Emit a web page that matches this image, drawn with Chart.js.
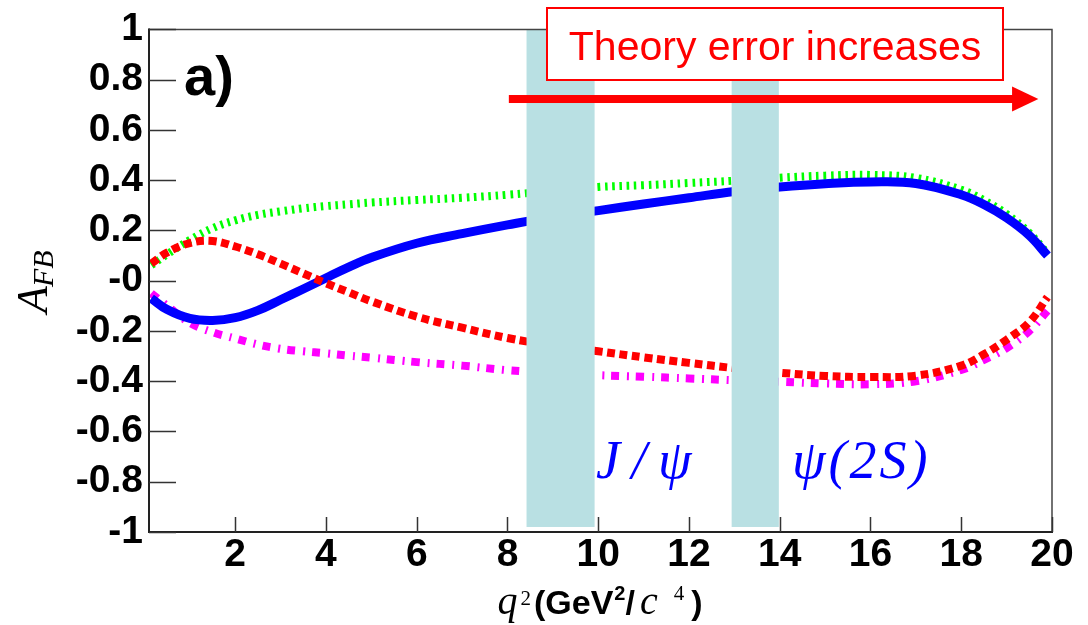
<!DOCTYPE html>
<html>
<head>
<meta charset="utf-8">
<script src="https://cdn.jsdelivr.net/npm/chart.js@4"></script>
<style>
  html, body { margin: 0; padding: 0; background: #fff; }
  canvas { display: block; }
</style>
</head>
<body>
<canvas id="afb" width="1088" height="625"></canvas>
<script>
// q^2 sampling points (GeV^2/c^4)
const q2 = [0.15, 0.5, 1.0, 1.5, 2.0, 2.5, 3.0, 3.5, 4.0, 4.5, 5.0, 6.0, 7.0, 8.0, 9.0,
            10.0, 11.0, 12.0, 13.0, 14.0, 15.0, 16.0, 17.0, 18.0, 18.5, 19.0, 19.5, 19.9];

// A_FB predictions for the four models
const afbSM = [-0.070, -0.115, -0.150, -0.158, -0.147, -0.118, -0.076, -0.033, 0.011, 0.054, 0.092, 0.149, 0.187, 0.222, 0.254,
               0.279, 0.305, 0.330, 0.355, 0.373, 0.386, 0.393, 0.387, 0.342, 0.303, 0.250, 0.180, 0.100];
const afbGreen = [0.062, 0.105, 0.162, 0.209, 0.240, 0.262, 0.276, 0.288, 0.297, 0.304, 0.311, 0.321, 0.330, 0.342, 0.357,
                  0.373, 0.380, 0.389, 0.398, 0.410, 0.418, 0.421, 0.409, 0.362, 0.320, 0.265, 0.190, 0.108];
const afbRed = [0.068, 0.112, 0.150, 0.158, 0.136, 0.105, 0.068, 0.029, -0.010, -0.046, -0.082, -0.143, -0.187, -0.228, -0.258,
                -0.281, -0.305, -0.327, -0.348, -0.366, -0.379, -0.383, -0.378, -0.338, -0.293, -0.235, -0.165, -0.065];
const afbMagenta = [-0.050, -0.100, -0.168, -0.205, -0.230, -0.254, -0.271, -0.281, -0.289, -0.298, -0.306, -0.324, -0.338, -0.356, -0.367,
                    -0.376, -0.382, -0.389, -0.396, -0.402, -0.409, -0.412, -0.400, -0.355, -0.315, -0.268, -0.200, -0.120];

// axis ticks
const xTicks = [2, 4, 6, 8, 10, 12, 14, 16, 18, 20];
const yTicks = [-1, -0.8, -0.6, -0.4, -0.2, 0, 0.2, 0.4, 0.6, 0.8, 1];
const yTickLabels = ['-1', '-0.8', '-0.6', '-0.4', '-0.2', '-0', '0.2', '0.4', '0.6', '0.8', '1'];

// charmonium veto regions in q^2 and their names
const vetoLo = [8.42, 12.94];
const vetoHi = [9.92, 13.98];
const vetoNames = ['J / ψ', 'ψ(2S)'];
const vetoNameX = [9.95, 14.27];
const vetoNameY = -0.787;

// arrow annotation (q^2 start, head base, tip; A_FB level)
const arrowQ = [8.03, 19.12, 19.70];
const arrowA = 0.723;
const noteText = 'Theory error increases';
const panelTag = 'a)';

const pts = ys => q2.map((x, i) => ({ x, y: ys[i] }));

const SANS = '"Liberation Sans", Arial, sans-serif';
const SERIF = '"Liberation Serif", "Times New Roman", serif';

const decor = {
  id: 'decor',
  beforeDraw(chart) {
    const ctx = chart.ctx;
    ctx.save();
    ctx.fillStyle = '#fff';
    ctx.fillRect(0, 0, chart.width, chart.height);
    ctx.restore();
  },
  afterDatasetsDraw(chart) {
    const { ctx, scales: { x, y } } = chart;
    ctx.save();
    ctx.fillStyle = '#b9e0e3';
    vetoLo.forEach((lo, i) => {
      const x0 = x.getPixelForValue(lo), x1 = x.getPixelForValue(vetoHi[i]);
      const y0 = y.getPixelForValue(1), y1 = y.getPixelForValue(-0.98);
      ctx.fillRect(x0, y0, x1 - x0, y1 - y0);
    });
    ctx.restore();
  },
  afterDraw(chart) {
    const { ctx, chartArea: a, scales: { x, y } } = chart;
    ctx.save();

    // frame
    ctx.lineCap = 'square';
    ctx.strokeStyle = '#444';
    ctx.lineWidth = 1.5;
    ctx.beginPath();
    ctx.moveTo(a.left, a.top); ctx.lineTo(a.right, a.top); ctx.lineTo(a.right, a.bottom);
    ctx.stroke();
    ctx.strokeStyle = '#222';
    ctx.lineWidth = 2;
    ctx.beginPath();
    ctx.moveTo(a.left, a.top); ctx.lineTo(a.left, a.bottom); ctx.lineTo(a.right, a.bottom);
    ctx.stroke();

    // inward tick marks
    ctx.lineCap = 'butt';
    ctx.strokeStyle = '#333';
    ctx.lineWidth = 1.5;
    ctx.beginPath();
    xTicks.forEach(v => {
      const px = Math.round(x.getPixelForValue(v)) + 0.5;
      ctx.moveTo(px, a.bottom); ctx.lineTo(px, a.bottom - 15);
    });
    yTicks.forEach(v => {
      const py = Math.round(y.getPixelForValue(v)) + 0.5;
      ctx.moveTo(a.left, py); ctx.lineTo(a.left + 27, py);
    });
    ctx.stroke();

    // arrow
    const ay = y.getPixelForValue(arrowA);
    const ax0 = x.getPixelForValue(arrowQ[0]);
    const ax1 = x.getPixelForValue(arrowQ[1]);
    const ax2 = x.getPixelForValue(arrowQ[2]);
    ctx.fillStyle = '#ff0000';
    ctx.fillRect(ax0, ay - 4, ax1 - ax0 + 1, 8);
    ctx.beginPath();
    ctx.moveTo(ax1, ay - 12.5); ctx.lineTo(ax2, ay); ctx.lineTo(ax1, ay + 12.5);
    ctx.closePath();
    ctx.fill();

    // text box
    ctx.fillStyle = '#fff';
    ctx.fillRect(547, 8, 456, 72);
    ctx.strokeStyle = '#ff0000';
    ctx.lineWidth = 2;
    ctx.strokeRect(547, 8, 456, 72);
    ctx.fillStyle = '#ff0000';
    ctx.font = '41px ' + SANS;
    ctx.textAlign = 'center';
    ctx.textBaseline = 'alphabetic';
    ctx.fillText(noteText, 775, 60);

    // panel tag
    ctx.fillStyle = '#000';
    ctx.textAlign = 'left';
    ctx.font = 'bold 56px ' + SANS;
    ctx.fillText(panelTag, 184, 95);

    // resonance names
    ctx.fillStyle = '#0000ff';
    ctx.font = 'italic 54px ' + SERIF;
    const spacing = [-1, 3];
    vetoNames.forEach((name, i) => {
      let px = x.getPixelForValue(vetoNameX[i]);
      const py = y.getPixelForValue(vetoNameY);
      for (const ch of name) {
        ctx.fillText(ch, px, py);
        px += ctx.measureText(ch).width + spacing[i];
      }
    });

    // x-axis title: q^2(GeV^2/c^4)
    const runs = [
      { t: 'q', f: 'italic 40px ' + SERIF, dy: 0, gap: 0 },
      { t: '2', f: '21px ' + SERIF, dy: -9, gap: 3 },
      { t: '(GeV', f: 'bold 34px ' + SANS, dy: 0, gap: 3 },
      { t: '2', f: 'bold 20px ' + SANS, dy: -14, gap: 1 },
      { t: '/', f: 'bold 34px ' + SANS, dy: 0, gap: 0 },
      { t: 'c', f: 'italic 40px ' + SERIF, dy: 0, gap: 5 },
      { t: '4', f: '21px ' + SERIF, dy: -14, gap: 16 },
      { t: ')', f: 'bold 34px ' + SANS, dy: 0, gap: 7 }
    ];
    let total = 0;
    runs.forEach(r => { ctx.font = r.f; r.w = ctx.measureText(r.t).width; total += r.w + r.gap; });
    let tx = 600 - total / 2;
    const tb = 614;
    ctx.fillStyle = '#000';
    runs.forEach(r => {
      tx += r.gap;
      ctx.font = r.f;
      ctx.fillText(r.t, tx, tb + r.dy);
      tx += r.w;
    });

    // y-axis title: A_FB
    ctx.translate(47, 313);
    ctx.rotate(-Math.PI / 2);
    ctx.font = 'italic 44px ' + SERIF;
    ctx.fillText('A', 0, 0);
    const wA = ctx.measureText('A').width;
    ctx.font = 'italic 30px ' + SERIF;
    ctx.fillText('FB', wA - 1, 6);

    ctx.restore();
  }
};

new Chart(document.getElementById('afb'), {
  type: 'line',
  data: {
    datasets: [
      { data: pts(afbRed), borderColor: '#ff0000', borderWidth: 8, borderDash: [8, 4.6], order: 0 },
      { data: pts(afbSM), borderColor: '#0000ff', borderWidth: 9, order: 1 },
      { data: pts(afbMagenta), borderColor: '#ff00ff', borderWidth: 8, borderDash: [8, 8, 2, 7], order: 2 },
      { data: pts(afbGreen), borderColor: '#00ff00', borderWidth: 8, borderDash: [2.6, 4.7], order: 3 }
    ]
  },
  options: {
    responsive: false,
    animation: false,
    events: [],
    layout: { padding: { left: 0, right: 36, top: 27, bottom: 0 } },
    plugins: { legend: { display: false }, tooltip: { enabled: false } },
    elements: {
      point: { radius: 0 },
      line: { tension: 0.4, borderCapStyle: 'butt', fill: false }
    },
    scales: {
      x: {
        type: 'linear', min: 0.1, max: 20,
        afterFit(s) { s.height = 93; },
        afterBuildTicks(s) { s.ticks = xTicks.map(v => ({ value: v })); },
        ticks: {
          autoSkip: false, maxRotation: 0, color: '#000', padding: 0,
          font: { family: SANS, weight: 'bold', size: 39 },
          callback: v => String(v)
        },
        grid: { display: false, drawTicks: false },
        border: { display: false }
      },
      y: {
        type: 'linear', min: -1, max: 1,
        afterFit(s) { s.width = 149; },
        afterBuildTicks(s) { s.ticks = yTicks.map(v => ({ value: v })); },
        ticks: {
          autoSkip: false, color: '#000', padding: 6,
          font: { family: SANS, weight: 'bold', size: 39 },
          callback: (v, i) => yTickLabels[i]
        },
        grid: { display: false, drawTicks: false },
        border: { display: false }
      }
    }
  },
  plugins: [decor]
});
</script>
</body>
</html>
